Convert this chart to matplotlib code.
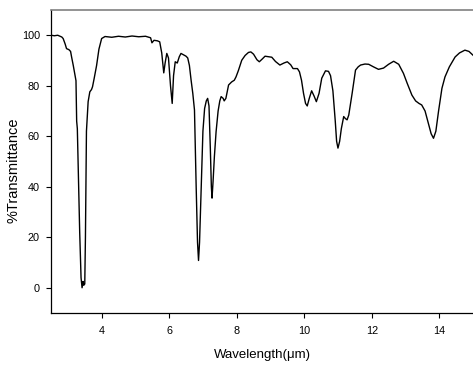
import matplotlib
matplotlib.use('Agg')
import matplotlib.pyplot as plt

# Espectro IR: comprimento de onda (um) e % transmitancia
wavelength = [2.50, 2.60, 2.70, 2.77, 2.82, 2.86, 2.92, 2.96, 3.03, 3.08, 3.11, 3.16, 3.21,
              3.24, 3.26, 3.28, 3.31, 3.35, 3.39, 3.42, 3.45, 3.47, 3.50, 3.52, 3.55,
              3.60, 3.65, 3.70, 3.73, 3.78, 3.85, 3.92, 4.00, 4.10, 4.30, 4.50, 4.70,
              4.90, 5.10, 5.30, 5.45, 5.49, 5.55, 5.65, 5.72, 5.78, 5.84, 5.88, 5.93,
              5.98, 6.04, 6.09, 6.13, 6.18, 6.24, 6.30, 6.35, 6.42, 6.50, 6.55, 6.60,
              6.65, 6.70, 6.75, 6.80, 6.84, 6.87, 6.90, 6.95, 7.00, 7.05, 7.10, 7.14,
              7.18, 7.22, 7.25, 7.27, 7.30, 7.34, 7.39, 7.45, 7.50, 7.54, 7.60, 7.63,
              7.68, 7.76, 7.85, 7.93, 7.98, 8.05, 8.15, 8.25, 8.35, 8.42, 8.50, 8.60,
              8.67, 8.75, 8.84, 8.95, 9.04, 9.15, 9.28, 9.40, 9.50, 9.60, 9.67, 9.75,
              9.80, 9.86, 9.92, 9.98, 10.04, 10.09, 10.15, 10.22, 10.29, 10.36, 10.44,
              10.52, 10.63, 10.72, 10.78, 10.85, 10.92, 10.96, 11.00, 11.05, 11.10,
              11.17, 11.22, 11.27, 11.32, 11.42, 11.52, 11.60, 11.67, 11.80, 11.91,
              12.05, 12.20, 12.35, 12.50, 12.65, 12.80, 12.94, 13.05, 13.19, 13.30,
              13.40, 13.48, 13.58, 13.68, 13.76, 13.83, 13.90, 13.98, 14.08, 14.17,
              14.30, 14.47, 14.60, 14.76, 14.88, 15.00]
transmittance = [100.0, 99.8, 100.0, 99.6, 99.3, 98.7, 96.5, 94.7, 94.3, 93.6, 91.4, 88.0, 84.2,
                 82.0, 66.0, 63.0, 45.0, 22.0, 4.0, 0.0, 2.5, 1.0, 1.5, 20.0, 62.0,
                 73.7, 77.6, 78.5, 79.6, 83.0, 88.0, 94.5, 98.7, 99.5, 99.2, 99.6, 99.3,
                 99.7, 99.4, 99.6, 99.0, 97.0, 98.0, 97.8, 97.4, 93.0, 85.1, 89.0, 92.8,
                 91.0, 80.0, 73.0, 84.0, 89.5, 89.0, 91.5, 92.8, 92.3, 91.7, 91.0, 88.0,
                 82.2, 77.0, 70.4, 40.0, 18.0, 10.8, 18.0, 40.0, 62.0, 71.0, 74.0, 75.0,
                 72.0, 55.0, 40.0, 35.5, 42.0, 52.0, 61.8, 70.0, 74.0, 75.7, 75.0, 74.0,
                 75.0, 80.3, 81.5, 82.2, 83.5, 86.0, 90.1, 92.0, 93.2, 93.4, 92.5, 90.3,
                 89.5, 90.5, 91.7, 91.5, 91.3, 89.6, 88.2, 89.0, 89.5, 88.3, 86.8, 86.8,
                 86.8, 85.5, 82.2, 77.0, 73.0, 72.0, 75.0, 78.0, 76.0, 73.7, 77.0,
                 83.0, 85.9, 85.7, 84.0, 78.0, 66.0, 58.0, 55.3, 58.0, 63.0,
                 67.8, 67.0, 66.5, 68.4, 77.0, 86.2, 87.5, 88.2, 88.6, 88.5,
                 87.5, 86.5, 87.0, 88.5, 89.7, 88.5, 84.9, 81.0, 76.3, 74.0,
                 73.0, 72.4, 70.0, 65.0, 61.0, 59.2, 62.0, 70.0, 79.0, 83.5,
                 87.5, 91.4, 93.0, 94.1, 93.6, 92.1]

fig = plt.figure(figsize=(4.73, 3.66), dpi=100)
ax = fig.add_axes([51/473, 1 - 313/366, 1 - 51/473, (313 - 10)/366])

ax.plot(wavelength, transmittance, color='black', linewidth=1.0)

ax.set_xlim(2.5, 15)
ax.set_ylim(-10, 110)
ax.set_xticks([4, 6, 8, 10, 12, 14])
ax.set_yticks([0, 20, 40, 60, 80, 100])

fonte = 'Liberation Sans'
ax.set_xlabel('Wavelength(μm)', fontsize=9.5, family=fonte)
ax.set_ylabel('%Transmittance', fontsize=10.5, family=fonte)
ax.xaxis.set_label_coords(0.5, -0.12)
ax.yaxis.set_label_coords(-0.072, 0.47)
for lab in ax.get_xticklabels() + ax.get_yticklabels():
    lab.set_family(fonte)
ax.tick_params(direction='out', length=3.5, width=0.8, labelsize=7.8)
ax.tick_params(axis='y', pad=4.5)
ax.tick_params(axis='x', pad=6)

# eixos: so esquerda e base em preto, topo em cinza
ax.spines['right'].set_visible(False)
ax.spines['top'].set_color('#808080')
ax.spines['top'].set_linewidth(1.2)
ax.spines['left'].set_linewidth(0.9)
ax.spines['bottom'].set_linewidth(0.9)

fig.savefig('out.png', dpi=100)
